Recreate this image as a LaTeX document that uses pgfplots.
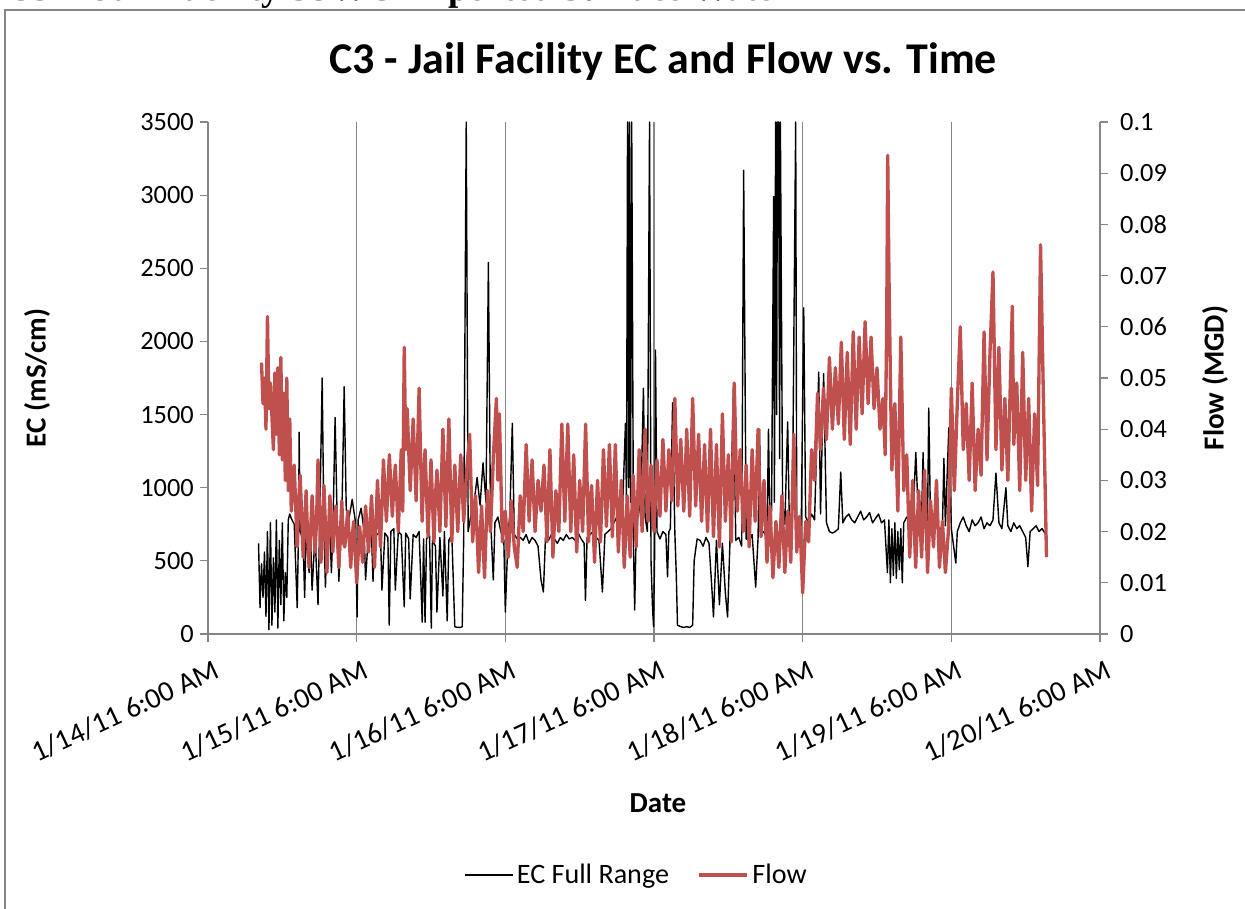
\documentclass[border=0pt]{standalone}
\usepackage{fontspec}
\setmainfont{Carlito}
\newfontfamily\headfont{Liberation Serif}
\usepackage{pgfplots}
\pgfplotsset{compat=1.18}
\definecolor{flowred}{RGB}{192,80,77}
\definecolor{axgray}{RGB}{134,134,134}

\begin{document}
\begin{tikzpicture}[x=0.2mm,y=0.2mm]
\path[use as bounding box] (0,0) rectangle (1245,909);
\coordinate (O) at (208,275);
% clipped page header above the chart frame
\begin{scope}
\clip (0,899) rectangle (1245,909);
\node[anchor=base west, inner sep=0pt, font=\headfont\bfseries\fontsize{21}{24}\selectfont] at (6,908) {C3 -- Jail Facility SSWC Imported Surface Water};
\end{scope}
\draw[axgray, line width=0.9pt] (5,0) -- (5,899) -- (1245,899);

\node[font=\bfseries\fontsize{25}{30}\selectfont] at (663,847) {C3 - Jail Facility EC and Flow vs. Time};
\node[rotate=90, font=\bfseries\fontsize{16.5}{18}\selectfont] at (37,531) {EC (mS/cm)};
\node[rotate=90, font=\bfseries\fontsize{16.5}{18}\selectfont] at (1215,531) {Flow (MGD)};
\node[font=\bfseries\fontsize{16.5}{19}\selectfont] at (658,106) {Date};

\begin{axis}[
    at={(O)}, anchor=origin,
    scale only axis, width=178.4mm, height=102.4mm,
    xmin=0, xmax=6, ymin=0, ymax=3500,
    axis x line*=bottom, axis y line*=left,
    axis line style={axgray, line width=0.7pt},
    xtick={0,1,2,3,4,5,6},
    xticklabels={1/14/11 6:00 AM,1/15/11 6:00 AM,1/16/11 6:00 AM,1/17/11 6:00 AM,1/18/11 6:00 AM,1/19/11 6:00 AM,1/20/11 6:00 AM},
    ytick={0,500,1000,1500,2000,2500,3000,3500},
    yticklabels={0,500,1000,1500,2000,2500,3000,3500},
    tick align=outside, major tick length=1.6mm,
    tick style={axgray, line width=0.7pt},
    xmajorgrids, grid style={axgray, line width=0.6pt},
    ticklabel style={font=\fontsize{15}{17}\selectfont},
    xticklabel style={rotate=25, anchor=north east, inner sep=0pt, yshift=-3.4mm, xshift=-0.6mm,
        font=\fontsize{16.5}{18}\selectfont},
]
\addplot[black, line width=0.8pt, line join=round] coordinates {
(0.34,620) (0.35,180) (0.36,480) (0.37,250) (0.38,560) (0.39,120) (0.40,700) (0.41,30)
(0.42,760) (0.43,60) (0.44,520) (0.45,150) (0.46,780) (0.47,40) (0.48,640) (0.49,200)
(0.50,760) (0.51,90) (0.52,420) (0.53,250) (0.54,780) (0.55,820) (0.56,790) (0.58,750)
(0.60,180) (0.61,760) (0.613,1380) (0.62,700) (0.64,640) (0.65,250) (0.66,700) (0.68,420)
(0.69,680) (0.70,300) (0.72,680) (0.74,200) (0.75,690) (0.768,1750) (0.78,700) (0.79,320)
(0.80,660) (0.82,720) (0.83,420) (0.84,700) (0.855,1480) (0.87,720) (0.88,360) (0.90,780)
(0.916,1690) (0.93,850) (0.95,800) (0.97,920) (0.99,780) (1.003,116) (1.01,780) (1.03,860)
(1.05,700) (1.06,370) (1.08,700) (1.10,680) (1.11,360) (1.12,700) (1.14,680) (1.16,700)
(1.17,300) (1.19,690) (1.21,660) (1.219,60) (1.23,700) (1.25,720) (1.26,300) (1.28,700)
(1.30,680) (1.32,185) (1.33,690) (1.35,650) (1.36,240) (1.38,680) (1.40,660) (1.42,700)
(1.441,80) (1.45,650) (1.46,80) (1.47,650) (1.49,680) (1.502,40) (1.51,640) (1.53,600)
(1.54,150) (1.56,660) (1.58,260) (1.59,700) (1.609,90) (1.62,640) (1.64,680) (1.66,50)
(1.68,45) (1.70,45) (1.71,50) (1.72,660) (1.737,3500) (1.75,700) (1.77,820) (1.79,900)
(1.81,1070) (1.83,880) (1.85,1170) (1.87,900) (1.886,2540) (1.90,800) (1.919,370) (1.93,760)
(1.95,800) (1.97,700) (1.99,640) (2.00,150) (2.02,720) (2.03,800) (2.047,1440) (2.06,680)
(2.08,650) (2.10,660) (2.12,640) (2.14,680) (2.16,620) (2.18,660) (2.20,640) (2.22,600)
(2.24,370) (2.256,287) (2.27,660) (2.29,640) (2.31,680) (2.33,650) (2.35,620) (2.37,660)
(2.39,640) (2.41,680) (2.43,650) (2.45,660) (2.47,640) (2.49,690) (2.51,650) (2.53,620)
(2.539,230) (2.55,660) (2.57,680) (2.59,700) (2.61,660) (2.63,640) (2.653,287) (2.67,680)
(2.69,700) (2.71,720) (2.73,760) (2.75,800) (2.77,840) (2.79,900) (2.808,1440) (2.815,900)
(2.822,3500) (2.83,1000) (2.835,3500) (2.842,900) (2.85,3500) (2.862,600) (2.87,164) (2.88,700)
(2.90,900) (2.91,800) (2.929,1680) (2.94,800) (2.955,700) (2.970,3500) (2.98,500) (2.99,178)
(2.997,50) (3.005,600) (3.010,1940) (3.02,700) (3.04,650) (3.06,700) (3.08,680) (3.091,390)
(3.10,700) (3.11,720) (3.125,1580) (3.14,700) (3.15,400) (3.158,60) (3.18,50) (3.20,45)
(3.22,50) (3.24,45) (3.26,60) (3.27,500) (3.29,650) (3.31,640) (3.33,600) (3.35,660)
(3.37,620) (3.39,300) (3.40,116) (3.42,640) (3.44,200) (3.46,620) (3.48,280) (3.495,116)
(3.51,600) (3.535,1716) (3.55,640) (3.57,660) (3.59,600) (3.603,3170) (3.62,650) (3.64,640)
(3.66,680) (3.684,320) (3.70,660) (3.71,1400) (3.72,680) (3.74,700) (3.76,650) (3.77,1400)
(3.78,700) (3.79,750) (3.805,2990) (3.81,900) (3.818,3500) (3.825,1500) (3.83,3500) (3.838,3500)
(3.845,1200) (3.85,3500) (3.865,900) (3.88,750) (3.899,1450) (3.91,780) (3.93,740) (3.953,3500)
(3.96,800) (3.98,720) (3.99,700) (4.007,2230) (4.02,800) (4.04,760) (4.06,820) (4.08,780)
(4.108,1790) (4.12,820) (4.141,1780) (4.16,760) (4.18,700) (4.20,690) (4.22,700) (4.24,720)
(4.256,1107) (4.27,760) (4.29,800) (4.31,820) (4.33,780) (4.35,760) (4.37,800) (4.39,840)
(4.41,780) (4.43,800) (4.45,830) (4.47,760) (4.49,790) (4.51,820) (4.53,760) (4.55,780)
(4.57,420) (4.58,780) (4.59,350) (4.60,720) (4.61,400) (4.62,760) (4.63,380) (4.64,700)
(4.65,440) (4.66,720) (4.67,350) (4.68,760) (4.70,800) (4.72,780) (4.74,760) (4.761,1240)
(4.78,760) (4.80,800) (4.81,1240) (4.82,760) (4.84,780) (4.848,1545) (4.86,760) (4.88,720)
(4.90,760) (4.92,700) (4.94,740) (4.95,1200) (4.96,740) (4.983,1410) (5.00,720) (5.03,485)
(5.04,700) (5.06,760) (5.08,800) (5.10,740) (5.12,700) (5.14,780) (5.16,740) (5.18,760)
(5.20,800) (5.22,720) (5.24,760) (5.26,740) (5.28,780) (5.30,1100) (5.32,760) (5.34,720)
(5.367,1000) (5.38,740) (5.40,700) (5.42,760) (5.44,720) (5.46,740) (5.48,700) (5.50,660)
(5.515,460) (5.53,700) (5.55,720) (5.57,740) (5.59,700) (5.61,720) (5.636,680)
};
\end{axis}

\begin{axis}[
    at={(O)}, anchor=origin,
    scale only axis, width=178.4mm, height=102.4mm,
    xmin=0, xmax=6, ymin=0, ymax=0.1,
    axis x line=none, axis y line*=right,
    axis line style={axgray, line width=0.7pt},
    ytick={0,0.01,0.02,0.03,0.04,0.05,0.06,0.07,0.08,0.09,0.1},
    yticklabels={0,0.01,0.02,0.03,0.04,0.05,0.06,0.07,0.08,0.09,0.1},
    tick align=outside, major tick length=1.6mm,
    tick style={axgray, line width=0.7pt},
    ticklabel style={font=\fontsize{15}{17}\selectfont},
    yticklabel style={xshift=1.2mm},
    legend style={at={(0.481,-0.471)}, anchor=center, draw=none, fill=none,
        legend columns=2, font=\fontsize{16}{18}\selectfont,
        /tikz/every even column/.append style={column sep=5mm}},
    legend image code/.code={\draw[#1] (0mm,0mm) -- (9.6mm,0mm);},
]
\addlegendimage{black, line width=0.8pt}
\addlegendentry{EC Full Range}
\addplot[flowred, line width=1.9pt, line join=round] coordinates {
(0.36,0.053) (0.37,0.045) (0.38,0.050) (0.39,0.040) (0.40,0.062) (0.41,0.044) (0.42,0.049) (0.44,0.036)
(0.45,0.051) (0.46,0.039) (0.47,0.052) (0.48,0.035) (0.49,0.054) (0.50,0.034) (0.51,0.047) (0.52,0.030)
(0.53,0.050) (0.54,0.028) (0.55,0.042) (0.56,0.024) (0.58,0.033) (0.60,0.017) (0.61,0.026) (0.62,0.031)
(0.64,0.015) (0.66,0.028) (0.67,0.019) (0.68,0.013) (0.70,0.027) (0.72,0.016) (0.73,0.022) (0.74,0.034)
(0.76,0.014) (0.78,0.029) (0.79,0.021) (0.80,0.012) (0.82,0.027) (0.84,0.016) (0.85,0.023) (0.86,0.025)
(0.88,0.013) (0.90,0.026) (0.91,0.018) (0.92,0.017) (0.94,0.024) (0.96,0.013) (0.97,0.019) (0.98,0.022)
(1.00,0.010) (1.02,0.021) (1.04,0.014) (1.05,0.020) (1.06,0.025) (1.08,0.016) (1.10,0.027) (1.12,0.013)
(1.14,0.030) (1.16,0.017) (1.17,0.025) (1.18,0.034) (1.20,0.022) (1.22,0.035) (1.24,0.023) (1.25,0.029)
(1.26,0.033) (1.28,0.020) (1.30,0.036) (1.31,0.024) (1.32,0.056) (1.33,0.036) (1.34,0.044) (1.36,0.028)
(1.38,0.042) (1.40,0.026) (1.42,0.048) (1.44,0.022) (1.45,0.030) (1.46,0.036) (1.48,0.019) (1.50,0.034)
(1.52,0.018) (1.53,0.027) (1.54,0.032) (1.56,0.020) (1.58,0.040) (1.60,0.021) (1.62,0.042) (1.64,0.018)
(1.65,0.026) (1.66,0.033) (1.68,0.020) (1.70,0.035) (1.72,0.022) (1.74,0.032) (1.76,0.039) (1.78,0.018)
(1.80,0.027) (1.82,0.012) (1.84,0.025) (1.86,0.011) (1.88,0.028) (1.90,0.020) (1.92,0.035) (1.94,0.046)
(1.95,0.030) (1.96,0.043) (1.98,0.018) (2.00,0.024) (2.02,0.015) (2.04,0.026) (2.06,0.017) (2.08,0.013)
(2.10,0.027) (2.12,0.020) (2.14,0.037) (2.16,0.022) (2.17,0.028) (2.18,0.034) (2.20,0.020) (2.22,0.030)
(2.24,0.024) (2.26,0.033) (2.28,0.018) (2.30,0.036) (2.32,0.015) (2.34,0.028) (2.35,0.024) (2.36,0.020)
(2.38,0.041) (2.40,0.022) (2.42,0.041) (2.44,0.020) (2.46,0.035) (2.48,0.016) (2.50,0.030) (2.52,0.020)
(2.54,0.041) (2.56,0.018) (2.57,0.025) (2.58,0.029) (2.60,0.014) (2.62,0.030) (2.64,0.018) (2.66,0.036)
(2.68,0.021) (2.70,0.037) (2.72,0.019) (2.73,0.028) (2.74,0.037) (2.76,0.016) (2.78,0.030) (2.80,0.013)
(2.82,0.027) (2.84,0.015) (2.86,0.031) (2.88,0.017) (2.90,0.036) (2.92,0.020) (2.94,0.040) (2.96,0.022)
(2.98,0.033) (3.00,0.020) (3.02,0.034) (3.04,0.023) (3.06,0.038) (3.08,0.024) (3.10,0.036) (3.12,0.026)
(3.14,0.046) (3.16,0.025) (3.18,0.038) (3.20,0.024) (3.21,0.031) (3.22,0.040) (3.24,0.023) (3.26,0.046)
(3.28,0.025) (3.30,0.039) (3.32,0.022) (3.34,0.037) (3.36,0.020) (3.38,0.040) (3.40,0.019) (3.42,0.037)
(3.44,0.017) (3.46,0.043) (3.48,0.022) (3.50,0.035) (3.52,0.018) (3.54,0.049) (3.56,0.024) (3.58,0.036)
(3.60,0.020) (3.62,0.033) (3.64,0.017) (3.66,0.036) (3.68,0.022) (3.70,0.040) (3.72,0.019) (3.74,0.030)
(3.76,0.014) (3.78,0.025) (3.80,0.011) (3.82,0.022) (3.84,0.013) (3.86,0.027) (3.88,0.012) (3.90,0.024)
(3.92,0.014) (3.94,0.039) (3.96,0.016) (3.98,0.023) (4.00,0.008) (4.02,0.022) (4.04,0.018) (4.06,0.036)
(4.08,0.030) (4.10,0.047) (4.12,0.036) (4.14,0.048) (4.16,0.038) (4.18,0.054) (4.20,0.040) (4.22,0.052)
(4.24,0.041) (4.26,0.057) (4.28,0.038) (4.30,0.055) (4.32,0.037) (4.34,0.059) (4.36,0.040) (4.38,0.058)
(4.40,0.043) (4.42,0.061) (4.44,0.045) (4.46,0.058) (4.48,0.044) (4.50,0.052) (4.52,0.040) (4.54,0.046)
(4.555,0.035) (4.565,0.060) (4.572,0.0935) (4.58,0.071) (4.59,0.050) (4.60,0.032) (4.62,0.045) (4.64,0.024)
(4.66,0.058) (4.68,0.028) (4.70,0.035) (4.72,0.015) (4.74,0.030) (4.76,0.013) (4.78,0.028) (4.80,0.015)
(4.82,0.032) (4.84,0.012) (4.86,0.026) (4.88,0.017) (4.90,0.030) (4.92,0.013) (4.94,0.022) (4.96,0.012)
(4.98,0.020) (5.00,0.048) (5.02,0.028) (5.04,0.045) (5.06,0.060) (5.08,0.036) (5.10,0.045) (5.12,0.030)
(5.14,0.049) (5.16,0.028) (5.18,0.040) (5.20,0.031) (5.22,0.059) (5.24,0.034) (5.26,0.055) (5.28,0.0707)
(5.30,0.036) (5.32,0.056) (5.34,0.032) (5.36,0.046) (5.38,0.030) (5.41,0.064) (5.42,0.037) (5.44,0.049)
(5.46,0.028) (5.48,0.055) (5.50,0.030) (5.52,0.046) (5.54,0.024) (5.56,0.043) (5.58,0.029) (5.60,0.076)
(5.62,0.045) (5.64,0.015)
};
\addlegendentry{Flow}
\end{axis}
\end{tikzpicture}
\end{document}
